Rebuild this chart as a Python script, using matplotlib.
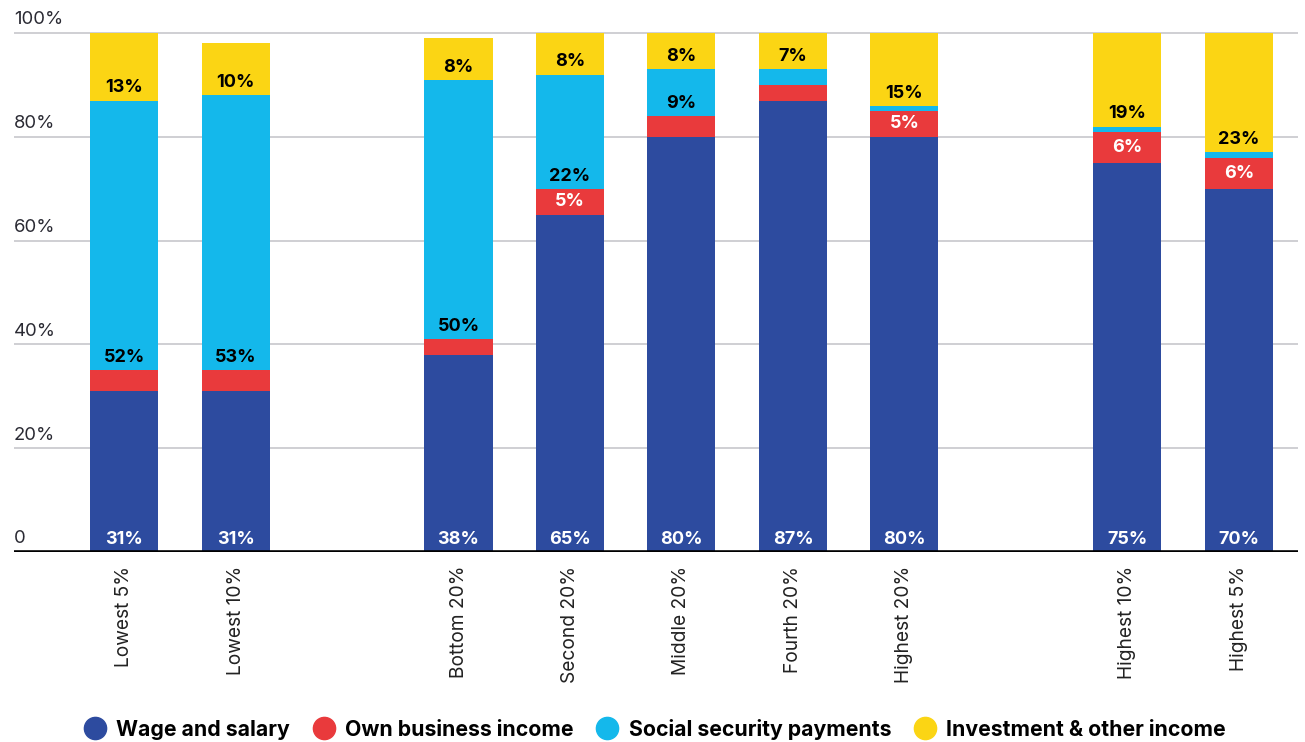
import matplotlib.pyplot as plt
from matplotlib.lines import Line2D
from matplotlib.transforms import blended_transform_factory

plt.rcParams['font.family'] = ['Inter', 'DejaVu Sans']

categories = ['Lowest 5%', 'Lowest 10%', 'Bottom 20%', 'Second 20%', 'Middle 20%',
              'Fourth 20%', 'Highest 20%', 'Highest 10%', 'Highest 5%']
positions = [0, 1, 3, 4, 5, 6, 7, 9, 10]

wage = [31, 31, 38, 65, 80, 87, 80, 75, 70]
own_business = [4, 4, 3, 5, 4, 3, 5, 6, 6]
social_security = [52, 53, 50, 22, 9, 3, 1, 1, 1]
investment = [13, 10, 8, 8, 7, 7, 14, 18, 23]

wage_labels = ['31%', '31%', '38%', '65%', '80%', '87%', '80%', '75%', '70%']
own_labels = ['', '', '', '5%', '', '', '5%', '6%', '6%']
social_labels = ['52%', '53%', '50%', '22%', '9%', '', '', '', '']
invest_labels = ['13%', '10%', '8%', '8%', '8%', '7%', '15%', '19%', '23%']

series_names = ['Wage and salary', 'Own business income',
                'Social security payments', 'Investment & other income']
colors = ['#2D4B9F', '#E93A3C', '#14B8EB', '#FBD514']

fig = plt.figure(figsize=(13.05, 7.42), dpi=100)
ax = fig.add_axes([14 / 1305, 190 / 742, 1284 / 1305, 522 / 742])

w = 0.61
b1 = [a + b for a, b in zip(wage, own_business)]
b2 = [a + b for a, b in zip(b1, social_security)]
ax.bar(positions, wage, w, color=colors[0], zorder=3)
ax.bar(positions, own_business, w, bottom=wage, color=colors[1], zorder=3)
ax.bar(positions, social_security, w, bottom=b1, color=colors[2], zorder=3)
ax.bar(positions, investment, w, bottom=b2, color=colors[3], zorder=3)

lab = dict(fontsize=13, fontweight='bold', ha='center', zorder=4)
for i, x in enumerate(positions):
    ax.text(x, 0.8, wage_labels[i], color='white', va='bottom', **lab)
    if own_labels[i]:
        ax.text(x, wage[i] + own_business[i] / 2, own_labels[i], color='white',
                va='center', **lab)
    if social_labels[i]:
        ax.text(x, b1[i] + 0.8, social_labels[i], color='black', va='bottom', **lab)
    ax.text(x, b2[i] + 0.8, invest_labels[i], color='black', va='bottom', **lab)

ax.set_xlim(-0.987, 10.53)
ax.set_ylim(0, 100.6)
for s in ax.spines.values():
    s.set_visible(False)
ax.set_yticks([])
for v in [20, 40, 60, 80, 100]:
    ax.axhline(v, color='#CBCBD0', lw=1.3, zorder=1)
ax.axhline(0, color='black', lw=2.6, zorder=5)

tr = blended_transform_factory(ax.transAxes, ax.transData)
for v in [0, 20, 40, 60, 80, 100]:
    txt = '0' if v == 0 else f'{v}%'
    ax.text(0, v + 0.9, txt, transform=tr, ha='left', va='bottom',
            fontsize=13.3, color='#2a2a33')

ax.set_xticks(positions)
ax.set_xticklabels(categories, rotation=90, fontsize=13.8, color='#222222')
ax.tick_params(axis='x', length=0, pad=10)

handles = [Line2D([], [], marker='o', ls='', markersize=16, color=c) for c in colors]
fig.legend(handles, series_names, loc='center', bbox_to_anchor=(655 / 1305, 1 - 729 / 742),
           ncol=4, frameon=False, prop={'weight': 'bold', 'size': 15.3},
           handletextpad=0.5, columnspacing=1.1, handlelength=1.0)

fig.savefig('out.png', dpi=100)
